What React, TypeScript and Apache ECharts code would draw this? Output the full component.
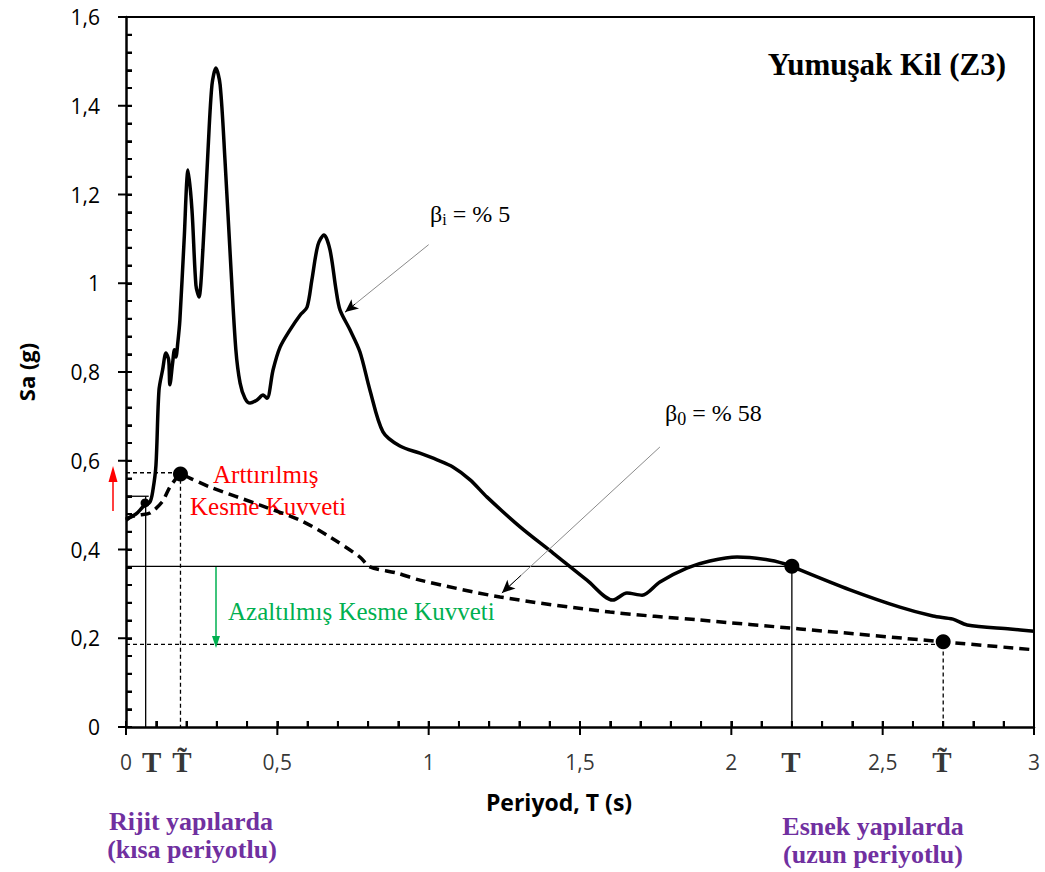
import React, { useEffect, useRef } from "react";
import * as echarts from "echarts";

// Sa spectrum, damping βi = %5 (solid): [T (s), Sa (g)]
const solidSpectrum: number[][] = [
  [0, 0.469], [0.033, 0.48], [0.056, 0.496], [0.079, 0.507], [0.089, 0.534], [0.099, 0.59],
  [0.109, 0.759], [0.121, 0.805], [0.132, 0.843], [0.141, 0.827], [0.145, 0.771], [0.154, 0.82],
  [0.16, 0.85], [0.165, 0.834], [0.171, 0.865], [0.178, 0.917], [0.192, 1.097], [0.205, 1.255],
  [0.218, 1.165], [0.231, 0.996], [0.241, 0.969], [0.254, 1.075], [0.271, 1.3], [0.284, 1.447],
  [0.297, 1.485], [0.311, 1.447], [0.327, 1.278], [0.347, 1.03], [0.363, 0.85], [0.377, 0.775],
  [0.393, 0.741], [0.41, 0.73], [0.433, 0.737], [0.453, 0.748], [0.466, 0.741], [0.486, 0.805],
  [0.509, 0.856], [0.542, 0.895], [0.575, 0.928], [0.598, 0.946], [0.614, 1.007], [0.634, 1.086],
  [0.654, 1.109], [0.674, 1.075], [0.694, 0.985], [0.707, 0.94], [0.74, 0.895], [0.773, 0.845],
  [0.806, 0.759], [0.849, 0.665], [0.905, 0.633], [0.971, 0.617], [1.028, 0.602], [1.08, 0.586],
  [1.137, 0.557], [1.193, 0.518], [1.302, 0.451], [1.411, 0.392], [1.523, 0.331], [1.609, 0.286],
  [1.655, 0.302], [1.705, 0.297], [1.764, 0.327], [1.853, 0.358], [1.929, 0.374], [2.019, 0.383],
  [2.128, 0.376], [2.2, 0.363], [2.227, 0.354], [2.392, 0.309], [2.557, 0.27], [2.666, 0.25],
  [2.732, 0.243], [2.779, 0.23], [2.921, 0.221], [3.0, 0.216],
];

// Sa spectrum, damping β0 = %58 (dashed)
const dashedSpectrum: number[][] = [
  [0, 0.466], [0.023, 0.475], [0.046, 0.478], [0.079, 0.482], [0.119, 0.507], [0.145, 0.541],
  [0.162, 0.557], [0.178, 0.57], [0.211, 0.561], [0.277, 0.541], [0.443, 0.5], [0.575, 0.466],
  [0.674, 0.428], [0.773, 0.383], [0.806, 0.361], [0.895, 0.347], [0.971, 0.331], [1.236, 0.293],
  [1.599, 0.259], [1.896, 0.241], [2.227, 0.221], [2.699, 0.192], [3.0, 0.174],
];

// reference lines
const lineT = 0.065;
const lineTtilde = 0.18;
const lineTlong = 2.2;
const lineTtildeLong = 2.7;
const saShortT = 0.52;
const saShortTtilde = 0.573;
const saLongT = 0.362;
const saLongTtilde = 0.186;

const bigDots: number[][] = [[0.18, 0.57], [2.2, 0.362], [2.7, 0.192]];
const smallDots: number[][] = [[0.063, 0.505]];

// x tick labels
const xLabelValues = [0, 0.085, 0.185, 0.5, 1, 1.5, 2, 2.197, 2.5, 2.696, 3];
const xLabelTexts = ["0", "T", "T\u0303", "0,5", "1", "1,5", "2", "T", "2,5", "T\u0303", "3"];

// axis ticks
const xMax = 3;
const yMax = 1.6;
const xMajorTicks = [0, 0.5, 1, 1.5, 2, 2.5, 3];
const xMinorTicks = [
  0.1, 0.2, 0.3, 0.4, 0.6, 0.7, 0.8, 0.9, 1.1, 1.2, 1.3, 1.4, 1.6, 1.7, 1.8, 1.9,
  2.1, 2.2, 2.3, 2.4, 2.6, 2.7, 2.8, 2.9,
];
const yMajorTicks = [0, 0.2, 0.4, 0.6, 0.8, 1.0, 1.2, 1.4, 1.6];
const yMinorTicks = [
  0.04, 0.08, 0.12, 0.16, 0.24, 0.28, 0.32, 0.36, 0.44, 0.48, 0.52, 0.56, 0.64, 0.68, 0.72, 0.76,
  0.84, 0.88, 0.92, 0.96, 1.04, 1.08, 1.12, 1.16, 1.24, 1.28, 1.32, 1.36, 1.44, 1.48, 1.52, 1.56,
];

// annotation arrows [from, to]
const arrowBetaI = [[1.0, 1.087], [0.724, 0.935]];
const arrowBeta0 = [[1.764, 0.631], [1.242, 0.302]];

const SERIF = "'Liberation Serif', 'Times New Roman', serif";
const SANS = "'Open Sans', 'Noto Sans', sans-serif";

function arrowItems(a: number[][]) {
  const [p, q] = a;
  const f = 0.12;
  const mid = [q[0] + (p[0] - q[0]) * f, q[1] + (p[1] - q[1]) * f];
  return [
    [
      { coord: p, symbol: "none" },
      { coord: q, symbol: "none", lineStyle: { color: "#8a8a8a", width: 1, type: "solid" } },
    ],
    [
      { coord: mid, symbol: "none" },
      { coord: q, symbol: "arrow", symbolSize: [9, 13], lineStyle: { color: "#000", width: 1, type: "solid" } },
    ],
  ];
}

const baseGraphics: any[] = [
  {
    type: "text", x: 1006, y: 64,
    style: { text: "Yumuşak Kil (Z3)", font: `bold 31px ${SERIF}`, fill: "#000", textAlign: "right", textVerticalAlign: "middle" },
  },
  {
    type: "text", x: 26, y: 372, rotation: Math.PI / 2,
    style: { text: "Sa (g)", font: `bold 22px ${SANS}`, fill: "#000", textAlign: "center", textVerticalAlign: "middle" },
  },
  {
    type: "text", x: 559, y: 802,
    style: { text: "Periyod, T (s)", font: `bold 23px ${SANS}`, fill: "#000", textAlign: "center", textVerticalAlign: "middle" },
  },
  {
    type: "text", x: 191, y: 821,
    style: { text: "Rijit yapılarda", font: `bold 26px ${SERIF}`, fill: "#7030a0", textAlign: "center", textVerticalAlign: "middle" },
  },
  {
    type: "text", x: 192, y: 849,
    style: { text: "(kısa periyotlu)", font: `bold 26px ${SERIF}`, fill: "#7030a0", textAlign: "center", textVerticalAlign: "middle" },
  },
  {
    type: "text", x: 873, y: 826,
    style: { text: "Esnek yapılarda", font: `bold 26px ${SERIF}`, fill: "#7030a0", textAlign: "center", textVerticalAlign: "middle" },
  },
  {
    type: "text", x: 873, y: 854,
    style: { text: "(uzun periyotlu)", font: `bold 26px ${SERIF}`, fill: "#7030a0", textAlign: "center", textVerticalAlign: "middle" },
  },
  {
    type: "text", x: 430, y: 214,
    style: {
      text: "β{sub|i} = % 5", font: `24px ${SERIF}`, fill: "#000", textAlign: "left", textVerticalAlign: "middle",
      rich: { sub: { font: `16px ${SERIF}`, fill: "#000", padding: [11, 0, 0, 0] } },
    },
  },
  {
    type: "text", x: 665, y: 413,
    style: {
      text: "β{sub|0} = % 58", font: `24px ${SERIF}`, fill: "#000", textAlign: "left", textVerticalAlign: "middle",
      rich: { sub: { font: `18px ${SERIF}`, fill: "#000", padding: [11, 0, 0, 0] } },
    },
  },
  {
    type: "text", x: 213, y: 474,
    style: { text: "Arttırılmış", font: `25px ${SERIF}`, fill: "#ff0000", textAlign: "left", textVerticalAlign: "middle" },
  },
  {
    type: "text", x: 190, y: 506,
    style: { text: "Kesme Kuvveti", font: `25px ${SERIF}`, fill: "#ff0000", textAlign: "left", textVerticalAlign: "middle" },
  },
  {
    type: "text", x: 228, y: 611,
    style: { text: "Azaltılmış Kesme Kuvveti", font: `25px ${SERIF}`, fill: "#00b050", textAlign: "left", textVerticalAlign: "middle" },
  },
  { type: "line", shape: { x1: 113, y1: 511, x2: 113, y2: 480 }, style: { stroke: "#ff0000", lineWidth: 1.5 } },
  { type: "polygon", shape: { points: [[113, 466], [108.5, 482], [117.5, 482]] }, style: { fill: "#ff0000" } },
  { type: "line", shape: { x1: 216, y1: 566, x2: 216, y2: 638 }, style: { stroke: "#00b050", lineWidth: 1.5 } },
  { type: "polygon", shape: { points: [[216, 648], [212, 636], [220, 636]] }, style: { fill: "#00b050" } },
];

export default function App() {
  const ref = useRef<HTMLDivElement>(null);
  useEffect(() => {
    if (!ref.current) return;
    const chart = echarts.init(ref.current, null, { renderer: "svg" });
    const thin = { color: "#000", width: 1.3 };
    const thinDash = { color: "#000", width: 1.3, type: [4, 3] as any };
    const seg = (data: number[][], style: any) => ({
      type: "line",
      data,
      showSymbol: false,
      symbol: "none",
      lineStyle: style,
      silent: true,
      z: 2,
    });
    chart.setOption({
      animation: false,
      backgroundColor: "#fff",
      grid: { left: 126, right: 11, top: 17, bottom: 145, show: false },
      xAxis: {
        type: "value",
        min: 0, max: xMax, interval: 0.5,
        splitLine: { show: false },
        axisLine: { show: true, onZero: false, lineStyle: { color: "#000", width: 2.5 } },
        axisTick: { show: true, inside: true, length: 6, lineStyle: { color: "#000", width: 2 } },
        minorTick: { show: true, splitNumber: 5, length: 6, lineStyle: { color: "#000", width: 2 } },
        axisLabel: { show: false },
      },
      yAxis: {
        type: "value",
        min: 0, max: yMax, interval: 0.2,
        splitLine: { show: false },
        axisLine: { show: true, onZero: false, lineStyle: { color: "#000", width: 2.5 } },
        axisTick: { show: true, inside: true, length: 6, lineStyle: { color: "#000", width: 2 } },
        minorTick: { show: true, splitNumber: 5, length: 6, lineStyle: { color: "#000", width: 2 } },
        axisLabel: {
          margin: 26,
          color: "#000",
          fontFamily: SANS,
          fontSize: 21,
          formatter: (v: number) => String(Math.round(v * 10) / 10).replace(".", ","),
        },
      },
      series: [
        {
          // top and right frame of the plot area
          type: "custom",
          clip: false,
          silent: true,
          z: 10,
          data: [[xMax, yMax]],
          renderItem: (_p: any, api: any) => {
            const o = api.coord([0, 0]);
            const tr = api.coord([api.value(0), api.value(1)]);
            return {
              type: "polyline",
              shape: { points: [[o[0], tr[1]], [tr[0], tr[1]], [tr[0], o[1]]] },
              style: { stroke: "#000", lineWidth: 2, fill: null },
            };
          },
        },
        seg([[0, saLongT], [lineTlong, saLongT]], thin),
        seg([[lineT, saShortT], [lineT, 0]], thin),
        seg([[0, saShortT], [0.075, saShortT]], thin),
        seg([[lineTlong, saLongT], [lineTlong, 0]], thin),
        seg([[0, saShortTtilde], [lineTtilde, saShortTtilde]], thinDash),
        seg([[lineTtilde, saShortTtilde], [lineTtilde, 0]], thinDash),
        seg([[0, saLongTtilde], [lineTtildeLong, saLongTtilde]], thinDash),
        seg([[lineTtildeLong, saLongTtilde], [lineTtildeLong, 0]], thinDash),
        {
          type: "line",
          name: "βi = % 5",
          data: solidSpectrum,
          showSymbol: false,
          symbol: "none",
          smooth: 0.3,
          lineStyle: { color: "#000", width: 3.5 },
          z: 3,
        },
        {
          type: "line",
          name: "β0 = % 58",
          data: dashedSpectrum,
          showSymbol: false,
          symbol: "none",
          smooth: 0.3,
          lineStyle: { color: "#000", width: 3.5, type: [10, 6] },
          z: 3,
          markLine: {
            silent: true,
            symbol: ["none", "none"],
            label: { show: false },
            data: [...arrowItems(arrowBetaI), ...arrowItems(arrowBeta0)],
          },
        },
        {
          type: "scatter",
          data: bigDots,
          symbol: "circle",
          symbolSize: 15,
          itemStyle: { color: "#000", opacity: 1 },
          z: 5,
        },
        {
          type: "scatter",
          data: smallDots,
          symbol: "circle",
          symbolSize: 9,
          itemStyle: { color: "#000", opacity: 1 },
          z: 5,
        },
        {
          type: "scatter",
          name: "x tick labels",
          silent: true,
          clip: false,
          symbol: "circle",
          symbolSize: 1,
          itemStyle: { color: "rgba(255,255,255,0)" },
          z: 10,
          data: xLabelValues.map((v, i) => ({ value: [v, 0], name: xLabelTexts[i] })),
          label: {
            show: true,
            position: "inside",
            offset: [0, 35],
            align: "center",
            verticalAlign: "middle",
            color: "#000",
            fontFamily: SANS,
            fontSize: 21,
            formatter: (p: any) => (p.name.startsWith("T") ? `{t|${p.name}}` : p.name),
            rich: {
              t: { fontFamily: SERIF, fontWeight: "bold", fontSize: 29, color: "#000" },
            },
          },
        },
      ],
      graphic: baseGraphics,
    });

    // axis ticks as small filled rectangles, placed through the chart's own scales
    try {
      const toPx = (v: number[]) => chart.convertToPixel({ gridIndex: 0 } as any, v) as number[];
      const tickRects: any[] = [];
      const rect = (x: number, y: number, w: number, h: number) => ({
        type: "rect",
        silent: true,
        z: 100,
        shape: { x, y, width: w, height: h },
        style: { fill: "#000" },
      });
      xMajorTicks.forEach((v) => {
        const p = toPx([v, 0]);
        tickRects.push(rect(p[0] - 1, p[1] - 6, 2, 14));
      });
      xMinorTicks.forEach((v) => {
        const p = toPx([v, 0]);
        tickRects.push(rect(p[0] - 1, p[1] - 6, 2, 6));
      });
      yMajorTicks.forEach((v) => {
        const p = toPx([0, v]);
        tickRects.push(rect(p[0] - 8, p[1] - 1, 14, 2));
      });
      yMinorTicks.forEach((v) => {
        const p = toPx([0, v]);
        tickRects.push(rect(p[0], p[1] - 1, 6, 2));
      });
      chart.setOption({ graphic: [...baseGraphics, ...tickRects] });
    } catch (e) {
      // keep the chart as drawn if the tick overlay cannot be built
    }
    return () => chart.dispose();
  }, []);
  return (
    <div
      ref={ref}
      style={{ position: "absolute", left: 0, top: 0, width: 1045, height: 872, background: "#fff" }}
    />
  );
}
